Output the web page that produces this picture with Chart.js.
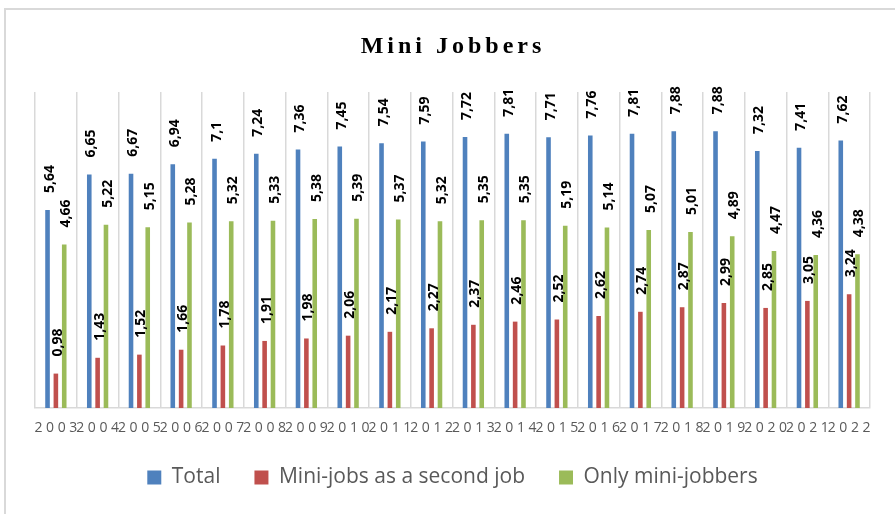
<!DOCTYPE html>
<html>
<head>
<meta charset="utf-8">
<script src="https://cdn.jsdelivr.net/npm/chart.js@4.4.1/dist/chart.umd.min.js"></script>
<style>
    body { margin: 0; background: #fff; }
    canvas { display: block; }
</style>
</head>
<body>
<canvas id="miniChart" width="895" height="514"></canvas>
<script>
// Data
const years = ["2003", "2004", "2005", "2006", "2007", "2008", "2009", "2010", "2011", "2012",
    "2013", "2014", "2015", "2016", "2017", "2018", "2019", "2020", "2021", "2022"];
const totalValues = [5.64, 6.65, 6.67, 6.94, 7.1, 7.24, 7.36, 7.45, 7.54, 7.59,
    7.72, 7.81, 7.71, 7.76, 7.81, 7.88, 7.88, 7.32, 7.41, 7.62];
const secondJobValues = [0.98, 1.43, 1.52, 1.66, 1.78, 1.91, 1.98, 2.06, 2.17, 2.27,
    2.37, 2.46, 2.52, 2.62, 2.74, 2.87, 2.99, 2.85, 3.05, 3.24];
const onlyMiniValues = [4.66, 5.22, 5.15, 5.28, 5.32, 5.33, 5.38, 5.39, 5.37, 5.32,
    5.35, 5.35, 5.19, 5.14, 5.07, 5.01, 4.89, 4.47, 4.36, 4.38];
const seriesNames = ["Total", "Mini-jobs as a second job", "Only mini-jobbers"];

const chartTitle = "Mini Jobbers";

// Frame + spaced title
const framePlugin = {
    id: 'frame',
    beforeDraw(chart)
    {
        const ctx = chart.ctx;
        ctx.save();
        ctx.strokeStyle = '#d9d9d9';
        ctx.lineWidth = 2;
        ctx.beginPath();
        ctx.moveTo(5, 514);
        ctx.lineTo(5, 9);
        ctx.lineTo(895, 9);
        ctx.stroke();

        ctx.fillStyle = '#000';
        ctx.font = 'bold 24px "Liberation Serif"';
        ctx.letterSpacing = '4px';
        ctx.textAlign = 'center';
        ctx.textBaseline = 'alphabetic';
        ctx.fillText(chartTitle, 453, 53);
        ctx.restore();
    }
};

// Rotated value labels above each bar
const valueLabelPlugin = {
    id: 'valueLabels',
    afterDatasetsDraw(chart)
    {
        const ctx = chart.ctx;
        ctx.save();
        ctx.fillStyle = '#000';
        ctx.font = 'bold 14px "Open Sans"';
        ctx.textAlign = 'left';
        ctx.textBaseline = 'middle';

        chart.data.datasets.forEach((ds, i) =>
        {
            const meta = chart.getDatasetMeta(i);
            meta.data.forEach((bar, j) =>
            {
                const text = String(ds.data[j]).replace('.', ',');
                ctx.save();
                ctx.translate(bar.x + 2, bar.y - 17);
                ctx.rotate(-Math.PI / 2);
                ctx.fillText(text, 0, 0);
                ctx.restore();
            });
        });
        ctx.restore();
    }
};

const ctx = document.getElementById("miniChart");

const chart = new Chart(ctx, {
    type: 'bar',
    data: {
        labels: years,
        datasets: [
            { label: seriesNames[0], data: totalValues, backgroundColor: '#4F81BD' },
            { label: seriesNames[1], data: secondJobValues, backgroundColor: '#C0504D' },
            { label: seriesNames[2], data: onlyMiniValues, backgroundColor: '#9BBB59' }
        ]
    },
    options: {
        responsive: false,
        animation: false,
        devicePixelRatio: 1,
        categoryPercentage: 0.6,
        barPercentage: 0.55,
        layout: {
            padding: { left: 35, right: 25, top: 92, bottom: 16 }
        },
        plugins: {
            title: { display: false },
            tooltip: { enabled: false },
            legend: {
                position: 'bottom',
                labels: {
                    boxWidth: 14,
                    boxHeight: 14,
                    padding: 34,
                    color: '#595959',
                    font: { family: '"Open Sans"', size: 21 }
                }
            }
        },
        scales: {
            x: {
                grid: {
                    offset: true,
                    color: '#d9d9d9',
                    lineWidth: 1.5,
                    drawTicks: false
                },
                border: { color: '#d9d9d9', width: 1.5 },
                ticks: {
                    autoSkip: false,
                    maxRotation: 0,
                    padding: 12,
                    color: '#595959',
                    font: { family: '"Open Sans"', size: 14 },
                    callback: function (value)
                    {
                        return this.getLabelForValue(value).split('').join(' ');
                    }
                },
                afterFit: (scale) =>
                {
                    scale.height = 25; // keep legend close to the axis
                }
            },
            y: {
                display: false,
                min: 0,
                max: 9
            }
        }
    },
    plugins: [framePlugin, valueLabelPlugin]
});
</script>
</body>
</html>
